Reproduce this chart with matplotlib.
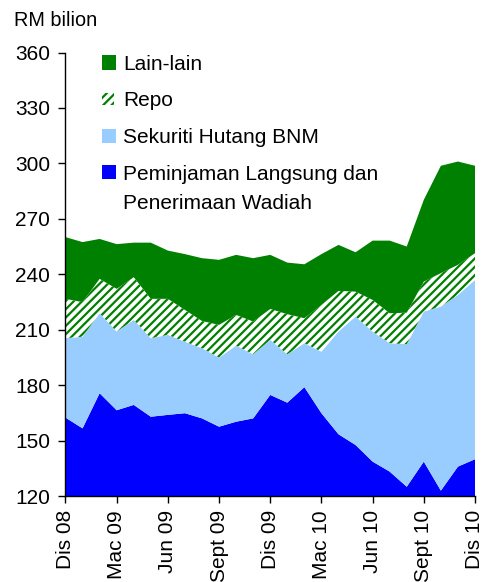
import matplotlib
matplotlib.use("Agg")
import matplotlib.pyplot as plt
from matplotlib.patches import Rectangle
import numpy as np

plt.rcParams['font.family'] = ['Liberation Sans', 'DejaVu Sans']
plt.rcParams['hatch.color'] = '#008000'
plt.rcParams['hatch.linewidth'] = 1.6

# Monthly data, Dis 08 .. Dis 10 (RM bilion)
months = ["Dis 08", "Jan 09", "Feb 09", "Mac 09", "Apr 09", "Mei 09", "Jun 09",
          "Jul 09", "Ogos 09", "Sept 09", "Okt 09", "Nov 09", "Dis 09",
          "Jan 10", "Feb 10", "Mac 10", "Apr 10", "Mei 10", "Jun 10",
          "Jul 10", "Ogos 10", "Sept 10", "Okt 10", "Nov 10", "Dis 10"]
peminjaman = [162.4, 156.6, 175.6, 166.4, 169.3, 162.9, 163.9, 164.8, 162.0, 157.5,
              160.2, 162.0, 174.7, 170.5, 178.9, 164.8, 153.4, 147.6, 138.6, 133.2,
              125.0, 138.6, 122.9, 135.9, 139.9]
sekuriti = [43.0, 49.6, 43.3, 42.6, 46.0, 42.5, 43.3, 38.7, 38.0, 37.4,
            41.2, 34.7, 29.8, 26.2, 23.8, 33.3, 55.6, 69.5, 70.4, 69.5,
            77.1, 81.2, 99.6, 92.9, 97.0]
repo = [21.3, 18.7, 18.6, 23.1, 23.1, 21.3, 19.5, 17.2, 14.7, 17.7,
        16.6, 17.7, 16.7, 21.7, 13.5, 25.3, 22.0, 13.5, 17.1, 16.2,
        17.1, 16.2, 18.1, 16.3, 14.5]
lain = [33.4, 32.5, 21.6, 24.2, 18.7, 30.4, 26.1, 30.2, 34.0, 35.2,
        32.5, 34.3, 29.3, 27.9, 29.2, 27.5, 24.9, 21.3, 32.1, 39.3,
        35.8, 44.3, 58.1, 55.9, 47.3]

tick_labels = ["Dis 08", "Mac 09", "Jun 09", "Sept 09", "Dis 09",
               "Mac 10", "Jun 10", "Sept 10", "Dis 10"]
yticks = [120, 150, 180, 210, 240, 270, 300, 330, 360]

colors = ["#0000FF", "#99CCFF", "#FFFFFF", "#008000"]
GREEN = "#008000"
FS = 15

W, H = 489, 582
fig = plt.figure(figsize=(W / 100, H / 100), dpi=100)
ax = fig.add_axes([65.5 / W, 1 - 496 / H, (475 - 65.5) / W, (496 - 52.5) / H])

x = np.arange(len(months))
polys = ax.stackplot(x, peminjaman, sekuriti, repo, lain, colors=colors,
                     linewidth=0)
polys[2].set_facecolor("white")
polys[2].set_edgecolor(GREEN)
polys[2].set_hatch("////")
polys[2].set_linewidth(0)

ax.set_xlim(0, len(months) - 1)
ax.set_ylim(120, 360)
ax.set_yticks(yticks)
ax.set_xticks([months.index(t) for t in tick_labels])
ax.set_xticklabels(tick_labels, rotation=90)
ax.tick_params(axis='both', labelsize=FS, direction='out', length=5, width=1,
               color='black')
ax.tick_params(axis='y', pad=6)
ax.tick_params(axis='x', pad=5)
for s in ['top', 'right']:
    ax.spines[s].set_visible(False)
for s in ['left', 'bottom']:
    ax.spines[s].set_linewidth(1)

fig.text(14 / W, 1 - 26 / H, "RM bilion", fontsize=14.3, ha='left', va='baseline')

# Legend (manual, matching reference layout)
def fx(px):
    return px / W

def fy(py):
    return 1 - py / H

legend_rows = [
    ("Lain-lain", GREEN, None, 62.5),
    ("Repo", "white", "////", 99),
    ("Sekuriti Hutang BNM", "#99CCFF", None, 135.5),
    ("Peminjaman Langsung dan", "#0000FF", None, 172),
]
for label, fc, hatch, cy in legend_rows:
    if hatch:
        r = Rectangle((fx(102), fy(cy + 5.5)), 12 / W, 11 / H, transform=fig.transFigure,
                      facecolor=fc, edgecolor=GREEN, hatch=hatch, linewidth=0)
    else:
        r = Rectangle((fx(102), fy(cy + 7)), 14 / W, 14 / H, transform=fig.transFigure,
                      facecolor=fc, edgecolor='none', linewidth=0)
    fig.patches.append(r)
    fig.text(fx(123), fy(cy + 7.5), label, fontsize=FS, ha='left', va='baseline')
fig.text(fx(123), fy(209), "Penerimaan Wadiah", fontsize=FS, ha='left', va='baseline')

fig.savefig("out.png", dpi=100)
